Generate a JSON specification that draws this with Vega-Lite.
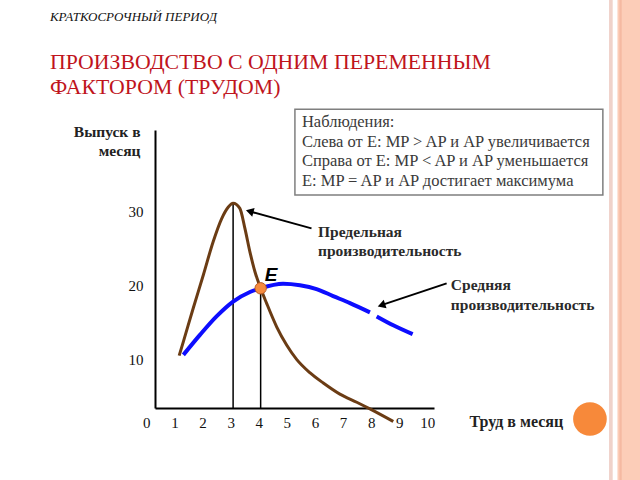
{
  "$schema": "https://vega.github.io/schema/vega-lite/v6.json",
  "width": 279,
  "height": 278,
  "autosize": {"type": "none"},
  "padding": {"left": 155, "top": 130, "right": 206, "bottom": 72},
  "background": "white",
  "config": {
    "view": {"stroke": null},
    "font": "Liberation Serif"
  },
  "datasets": {
    "mp": [
      {"labor": 1.15, "output": 10.5},
      {"labor": 1.30, "output": 12.4},
      {"labor": 1.65, "output": 16.9},
      {"labor": 2.01, "output": 21.4},
      {"labor": 2.36, "output": 25.9},
      {"labor": 2.66, "output": 29.0},
      {"labor": 2.90, "output": 30.6},
      {"labor": 3.07, "output": 31.1},
      {"labor": 3.31, "output": 30.4},
      {"labor": 3.49, "output": 27.7},
      {"labor": 3.67, "output": 24.5},
      {"labor": 3.85, "output": 21.8},
      {"labor": 4.05, "output": 19.6},
      {"labor": 4.26, "output": 17.6},
      {"labor": 4.62, "output": 14.4},
      {"labor": 4.98, "output": 11.9},
      {"labor": 5.33, "output": 10.0},
      {"labor": 5.80, "output": 8.2},
      {"labor": 6.28, "output": 6.8},
      {"labor": 6.87, "output": 5.3},
      {"labor": 7.47, "output": 4.2},
      {"labor": 7.94, "output": 3.3},
      {"labor": 8.77, "output": 1.6}
    ],
    "ap": [
      {"labor": 1.30, "output": 10.6, "seg": 1},
      {"labor": 1.89, "output": 13.3, "seg": 1},
      {"labor": 2.48, "output": 15.8, "seg": 1},
      {"labor": 3.07, "output": 17.8, "seg": 1},
      {"labor": 3.67, "output": 19.1, "seg": 1},
      {"labor": 4.05, "output": 19.6, "seg": 1},
      {"labor": 4.85, "output": 20.2, "seg": 1},
      {"labor": 5.45, "output": 20.0, "seg": 1},
      {"labor": 6.04, "output": 19.5, "seg": 1},
      {"labor": 6.63, "output": 18.55, "seg": 1},
      {"labor": 7.23, "output": 17.6, "seg": 1},
      {"labor": 7.94, "output": 16.35, "seg": 1},
      {"labor": 8.18, "output": 15.8, "seg": 2},
      {"labor": 8.77, "output": 14.6, "seg": 2},
      {"labor": 9.46, "output": 13.4, "seg": 2}
    ],
    "guides": [
      {"labor": 3.07, "base": 3.42, "top": 31.1},
      {"labor": 4.05, "base": 3.42, "top": 19.6}
    ],
    "equilibrium": [{"labor": 4.05, "output": 19.6}],
    "xticks": [
      {"n": 0}, {"n": 1}, {"n": 2}, {"n": 3}, {"n": 4}, {"n": 5},
      {"n": 6}, {"n": 7}, {"n": 8}, {"n": 9}, {"n": 10}
    ]
  },
  "layer": [
    {
      "data": {"values": [{}]},
      "mark": {"type": "rect", "color": "#f0d2ca"},
      "encoding": {"x": {"datum": 16.45, "type": "quantitative"}, "x2": {"datum": 16.58}, "y": {"datum": 58.6, "type": "quantitative"}, "y2": {"datum": -6.4}}
    },
    {
      "data": {"values": [{}]},
      "mark": {"type": "rect", "color": "#fccdb8"},
      "encoding": {"x": {"datum": 16.75, "type": "quantitative"}, "x2": {"datum": 17.6}, "y": {"datum": 58.6, "type": "quantitative"}, "y2": {"datum": -6.4}}
    },
    {
      "data": {"values": [{}]},
      "mark": {"type": "rect", "color": "#f5b9a2"},
      "encoding": {"x": {"datum": 16.82, "type": "quantitative"}, "x2": {"datum": 16.9}, "y": {"datum": 58.6, "type": "quantitative"}, "y2": {"datum": -6.4}}
    },
    {
      "data": {"values": [{}]},
      "mark": {"type": "point", "filled": true, "color": "#f7893a", "opacity": 1, "size": 1134},
      "encoding": {"x": {"datum": 15.77, "type": "quantitative"}, "y": {"datum": 1.93, "type": "quantitative"}}
    },
    {
      "data": {"values": [{}]},
      "mark": {"type": "rect", "fill": "white", "stroke": "#7f7f7f", "strokeWidth": 1.5},
      "encoding": {"x": {"datum": 5.27, "type": "quantitative"}, "x2": {"datum": 16.23}, "y": {"datum": 43.82, "type": "quantitative"}, "y2": {"datum": 32.22}}
    },
    {
      "data": {"values": [{}]},
      "mark": {"type": "text", "align": "left", "baseline": "top", "fontSize": 16.5, "color": "#3a3a3a", "lineBreak": "\n", "lineHeight": 19.5},
      "encoding": {
        "x": {"datum": 5.52, "type": "quantitative"},
        "y": {"datum": 43.1, "type": "quantitative"},
        "text": {"value": "Наблюдения:\nСлева от E: MP > AP и AP увеличивается\nСправа от E: MP < AP и AP уменьшается\nE: MP = AP и AP достигает максимума"}
      }
    },
    {
      "data": {"name": "guides"},
      "mark": {"type": "rule", "color": "black", "strokeWidth": 1.5},
      "encoding": {
        "x": {"field": "labor", "type": "quantitative"},
        "y": {"field": "base", "type": "quantitative"},
        "y2": {"field": "top"}
      }
    },
    {
      "data": {"name": "mp"},
      "mark": {"type": "line", "color": "#6b3c14", "strokeWidth": 3, "interpolate": "monotone", "clip": false},
      "encoding": {
        "x": {
          "field": "labor", "type": "quantitative",
          "scale": {"domain": [0.29, 10.22], "nice": false, "zero": false},
          "axis": {
            "title": "Труд в месяц", "labels": false,
            "grid": false, "ticks": false, "tickSize": 0, "domainColor": "black", "domainWidth": 2,
            "titleFontSize": 16, "titleFontWeight": "bold", "titleColor": "#222222",
            "titleX": 314, "titleY": 13, "titleAlign": "left", "titleBaseline": "middle", "titleAnchor": "start"
          }
        },
        "y": {
          "field": "output", "type": "quantitative",
          "scale": {"domain": [3.42, 41], "nice": false, "zero": false},
          "axis": {
            "title": ["Выпуск в", "месяц"], "values": [10, 20, 30],
            "grid": false, "ticks": false, "tickSize": 0, "domainColor": "black", "domainWidth": 2,
            "labelFontSize": 15, "labelColor": "#111111", "labelPadding": 12,
            "titleFontSize": 15.5, "titleFontWeight": "bold", "titleColor": "#222222",
            "titleAngle": 0, "titleAlign": "right", "titleBaseline": "top", "titleX": -15, "titleY": -6, "titleLineHeight": 19
          }
        }
      }
    },
    {
      "data": {"name": "xticks"},
      "mark": {"type": "text", "align": "center", "baseline": "top", "fontSize": 15, "color": "#111111"},
      "encoding": {
        "x": {"field": "n", "type": "quantitative"},
        "y": {"datum": 2.28, "type": "quantitative"},
        "text": {"field": "n", "type": "quantitative"}
      }
    },
    {
      "data": {"name": "ap"},
      "mark": {"type": "line", "color": "#0d0dff", "strokeWidth": 4, "interpolate": "monotone"},
      "encoding": {
        "x": {"field": "labor", "type": "quantitative"},
        "y": {"field": "output", "type": "quantitative"},
        "detail": {"field": "seg", "type": "nominal"}
      }
    },
    {
      "data": {"name": "equilibrium"},
      "mark": {"type": "point", "filled": true, "color": "#f58b3f", "stroke": "#b85a25", "strokeWidth": 1, "opacity": 1, "size": 130},
      "encoding": {
        "x": {"field": "labor", "type": "quantitative"},
        "y": {"field": "output", "type": "quantitative"}
      }
    },
    {
      "data": {"values": [{}]},
      "mark": {"type": "rule", "color": "black", "strokeWidth": 2},
      "encoding": {"x": {"datum": 5.86, "type": "quantitative"}, "y": {"datum": 27.7, "type": "quantitative"}, "x2": {"datum": 3.66}, "y2": {"datum": 30.0}}
    },
    {
      "data": {"values": [{}]},
      "mark": {"type": "point", "shape": "triangle-up", "filled": true, "color": "black", "opacity": 1, "size": 80, "angle": 285.3},
      "encoding": {"x": {"datum": 3.66, "type": "quantitative"}, "y": {"datum": 30.0, "type": "quantitative"}}
    },
    {
      "data": {"values": [{}]},
      "mark": {"type": "rule", "color": "black", "strokeWidth": 2},
      "encoding": {"x": {"datum": 10.67, "type": "quantitative"}, "y": {"datum": 20.27, "type": "quantitative"}, "x2": {"datum": 8.35}, "y2": {"datum": 17.32}}
    },
    {
      "data": {"values": [{}]},
      "mark": {"type": "point", "shape": "triangle-up", "filled": true, "color": "black", "opacity": 1, "size": 80, "angle": 251.5},
      "encoding": {"x": {"datum": 8.35, "type": "quantitative"}, "y": {"datum": 17.32, "type": "quantitative"}}
    },
    {
      "data": {"values": [{}]},
      "mark": {"type": "text", "align": "left", "baseline": "middle", "font": "Liberation Sans", "fontSize": 19, "fontStyle": "italic", "fontWeight": "bold", "color": "black"},
      "encoding": {"x": {"datum": 4.2, "type": "quantitative"}, "y": {"datum": 21.39, "type": "quantitative"}, "text": {"value": "E"}}
    },
    {
      "data": {"values": [{}]},
      "mark": {"type": "text", "align": "left", "baseline": "top", "fontSize": 15.5, "fontWeight": "bold", "color": "#2a2a2a", "lineBreak": "\n", "lineHeight": 19},
      "encoding": {"x": {"datum": 6.09, "type": "quantitative"}, "y": {"datum": 28.16, "type": "quantitative"}, "text": {"value": "Предельная\nпроизводительность"}}
    },
    {
      "data": {"values": [{}]},
      "mark": {"type": "text", "align": "left", "baseline": "top", "fontSize": 15.5, "fontWeight": "bold", "color": "#2a2a2a", "lineBreak": "\n", "lineHeight": 20},
      "encoding": {"x": {"datum": 10.82, "type": "quantitative"}, "y": {"datum": 21.0, "type": "quantitative"}, "text": {"value": "Средняя\nпроизводительность"}}
    },
    {
      "data": {"values": [{}]},
      "mark": {"type": "text", "align": "left", "baseline": "middle", "fontSize": 13, "fontStyle": "italic", "color": "#111111"},
      "encoding": {"x": {"datum": -3.45, "type": "quantitative"}, "y": {"datum": 56.26, "type": "quantitative"}, "text": {"value": "КРАТКОСРОЧНЫЙ ПЕРИОД"}}
    },
    {
      "data": {"values": [{}]},
      "mark": {"type": "text", "align": "left", "baseline": "top", "fontSize": 21.8, "color": "#c0141c", "lineBreak": "\n", "lineHeight": 25},
      "encoding": {"x": {"datum": -3.45, "type": "quantitative"}, "y": {"datum": 51.53, "type": "quantitative"}, "text": {"value": "ПРОИЗВОДСТВО С ОДНИМ  ПЕРЕМЕННЫМ\nФАКТОРОМ  (ТРУДОМ)"}}
    }
  ]
}
